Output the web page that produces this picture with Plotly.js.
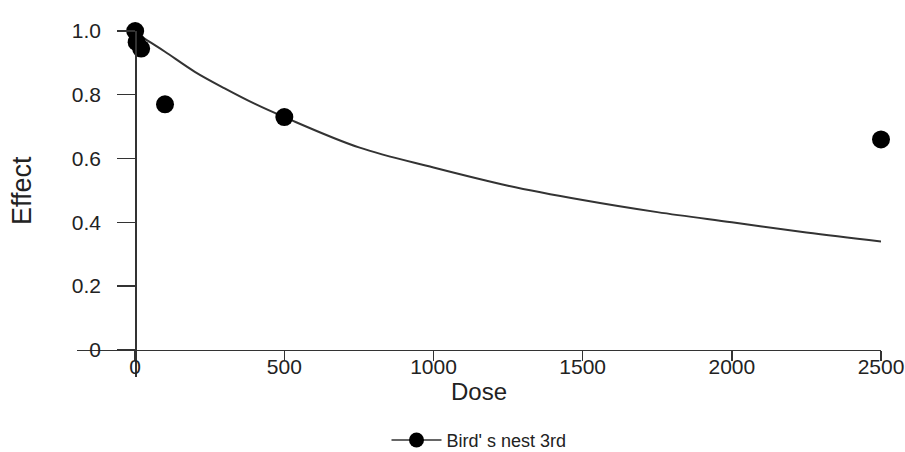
<!DOCTYPE html>
<html>
<head>
<meta charset="utf-8">
<script src="https://cdn.plot.ly/plotly-3.0.1.min.js"></script>
<style>html,body{margin:0;padding:0;background:#fff;}#chart{width:905px;height:452px;}</style>
</head>
<body>
<div id="chart"></div>
<script>
// Observed data points
var doseObs = [0, 5, 20, 100, 500, 2500];
var effectObs = [1.0, 0.965, 0.945, 0.77, 0.73, 0.66];

// Fitted curve
var doseFit = [0, 25, 50, 100, 200, 300, 400, 500, 750, 1000, 1250, 1500, 1750, 2000, 2250, 2500];
var effectFit = [1.0, 0.98, 0.965, 0.935, 0.872, 0.82, 0.772, 0.73, 0.635, 0.572, 0.515, 0.47, 0.432, 0.40, 0.368, 0.34];

var xTickVals = [0, 500, 1000, 1500, 2000, 2500];
var xTickText = ['0', '500', '1000', '1500', '2000', '2500'];
var yTickVals = [0, 0.2, 0.4, 0.6, 0.8, 1.0];
var yTickText = ['0', '0.2', '0.4', '0.6', '0.8', '1.0'];

var seriesName = "Bird' s nest 3rd";

var xRange = [-195, 2500];
var yRange = [-0.085, 1.0];

var traces = [
  {
    x: doseFit, y: effectFit, type: 'scatter', mode: 'lines',
    line: {color: '#333333', width: 2, shape: 'spline', smoothing: 1},
    showlegend: false, hoverinfo: 'skip', cliponaxis: false
  },
  {
    x: doseObs, y: effectObs, type: 'scatter', mode: 'markers',
    name: seriesName, showlegend: false,
    marker: {color: '#000000', size: 18, symbol: 'circle'},
    cliponaxis: false
  },
  {
    // legend entry only (line with marker, as in the reference key)
    x: [null], y: [null], type: 'scatter', mode: 'lines+markers',
    name: seriesName, showlegend: true,
    line: {color: '#333333', width: 1.6},
    marker: {color: '#000000', size: 15, symbol: 'circle'}
  }
];

var layout = {
  width: 905, height: 452,
  margin: {l: 77, r: 24, t: 31, b: 75, autoexpand: false},
  paper_bgcolor: '#ffffff', plot_bgcolor: '#ffffff',
  font: {family: 'Liberation Sans, Arial, sans-serif', color: '#222222'},
  showlegend: true,
  legend: {
    orientation: 'h', x: 0.5, xanchor: 'center', y: -0.183, yanchor: 'middle',
    font: {size: 18, color: '#222222'}, bgcolor: 'rgba(0,0,0,0)',
    itemwidth: 50
  },
  xaxis: {
    range: xRange, anchor: 'free', automargin: false,
    position: (0 - yRange[0]) / (yRange[1] - yRange[0]),
    showgrid: false, zeroline: false, showline: true,
    linecolor: '#333333', linewidth: 1.6,
    ticks: 'outside', ticklen: 10, tickwidth: 1.4, tickcolor: '#333333',
    tickvals: xTickVals, ticktext: xTickText,
    tickfont: {size: 21, color: '#222222'},
    ticklabelstandoff: -13,
    title: {text: 'Dose', font: {size: 24, color: '#222222'}, standoff: 0}
  },
  yaxis: {
    range: yRange, anchor: 'free', automargin: false,
    position: (0 - xRange[0]) / (xRange[1] - xRange[0]),
    showgrid: false, zeroline: false, showline: true,
    linecolor: '#333333', linewidth: 1.6,
    ticks: 'outside', ticklen: 18, tickwidth: 1.4, tickcolor: '#333333',
    tickvals: yTickVals, ticktext: yTickText,
    tickfont: {size: 21, color: '#222222'},
    ticklabelstandoff: 12
  },
  annotations: [{
    text: 'Effect', textangle: -90, xref: 'paper', yref: 'paper',
    x: -0.0684, y: 0.5376, xanchor: 'center', yanchor: 'middle',
    showarrow: false, font: {size: 27, color: '#222222'}
  }]
};

Plotly.newPlot('chart', traces, layout, {displayModeBar: false, staticPlot: true});
</script>
</body>
</html>
